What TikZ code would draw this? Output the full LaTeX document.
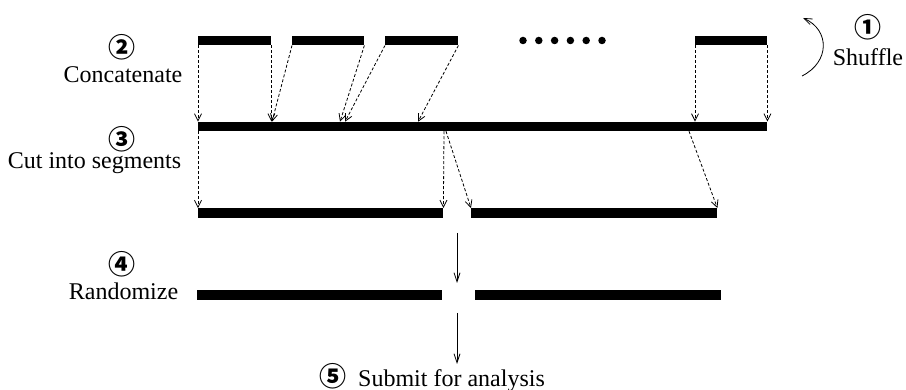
\documentclass[tikz,border=0pt]{standalone}
\usepackage{fontspec}
\setmainfont{Liberation Serif}
\newfontfamily\circfont{Noto Sans CJK JP}
\usetikzlibrary{arrows.meta}
\begin{document}
\begin{tikzpicture}[x=1pt,y=-1pt,
 bar/.style={rectangle,fill=black,inner sep=0pt,minimum height=9.5pt,anchor=west},
 darr/.style={line width=0.8pt,dash pattern=on 3pt off 2pt,-{Straight Barb[length=7pt,width=7pt]}},
 sarr/.style={line width=0.8pt,-{Straight Barb[length=9pt,width=6pt]}},
 lbl/.style={font=\fontsize{24}{28}\selectfont,inner sep=0pt},
 num/.style={font=\circfont\bfseries\fontsize{27}{30}\selectfont,inner sep=0pt},
 dot/.style={circle,fill=black,inner sep=0pt,minimum size=7.5pt}]
\useasboundingbox (0,0) rectangle (906,390);
% top pieces
\node[bar,minimum width=73pt] (t1) at (198,40.5) {};
\node[bar,minimum width=72pt] (t2) at (292,40.5) {};
\node[bar,minimum width=73pt] (t3) at (385,40.5) {};
\node[bar,minimum width=72pt] (t4) at (695,40.5) {};
\foreach \i in {0,...,5} \node[dot] (d\i) at (523+15.8*\i,40.5) {};
% long bar
\node[bar,minimum width=569pt] (L) at (198,126.5) {};
% segments
\node[bar,minimum width=245pt] (s1) at (198,213) {};
\node[bar,minimum width=246pt] (s2) at (471,213) {};
% randomized
\node[bar,minimum width=245pt] (r1) at (197,295) {};
\node[bar,minimum width=246pt] (r2) at (475,295) {};
% targets on long bar
\coordinate (a1) at (t1.south east |- L.north);
\coordinate (a2) at (272,121.75);
\coordinate (a3) at (340,121.75);
\coordinate (a4) at (345,121.75);
\coordinate (a5) at (418,121.75);
\coordinate (a6) at (t4.south west |- L.north);
\coordinate (a7) at (t4.south east |- L.north);
\draw[darr] (t1.south west) -- (L.north west);
\draw[darr] (t1.south east) -- (a1);
\draw[darr] (t2.south west) -- (a2);
\draw[darr] (t2.south east) -- (a3);
\draw[darr] (t3.south west) -- (a4);
\draw[darr] (t3.south east) -- (a5);
\draw[darr] (t4.south west) -- (a6);
\draw[darr] (t4.south east) -- (a7);
% cuts
\coordinate (k1) at (444,131.25);
\coordinate (k2) at (446,131.25);
\coordinate (k3) at (689,131.25);
\draw[darr] (L.south west) -- (s1.north west);
\draw[darr] (k1) -- (s1.north east);
\draw[darr] (k2) -- (s2.north west);
\draw[darr] (k3) -- (s2.north east);
% randomize arrows
\coordinate (u1) at (457,233);
\coordinate (u2) at (457,283);
\coordinate (u3) at (457,313);
\coordinate (u4) at (457,364);
\draw[sarr] (u1) -- (u2);
\draw[sarr] (u3) -- (u4);
% shuffle arrow
\coordinate (h1) at (802,76);
\coordinate (h2) at (803,18);
\draw[line width=0.8pt,-{Straight Barb[length=8pt,width=6pt]}] (h1) .. controls (830,62) and (830,30) .. (h2);
% labels
\node[num] (n1) at (868,27) {①};
\node[lbl,anchor=base] (l1) at (868,66) {Shuffle};
\node[num] (n2) at (122,47) {②};
\node[lbl,anchor=base] (l2) at (123,83) {Concatenate};
\node[num] (n3) at (122,139) {③};
\node[lbl,anchor=base] (l3) at (94.5,169) {Cut into segments};
\node[num] (n4) at (122,264) {④};
\node[lbl,anchor=base] (l4) at (123.5,300) {Randomize};
\node[num] (n5) at (333,376) {⑤};
\node[lbl,anchor=base west] (l5) at (358,386) {Submit for analysis};
\end{tikzpicture}
\end{document}
